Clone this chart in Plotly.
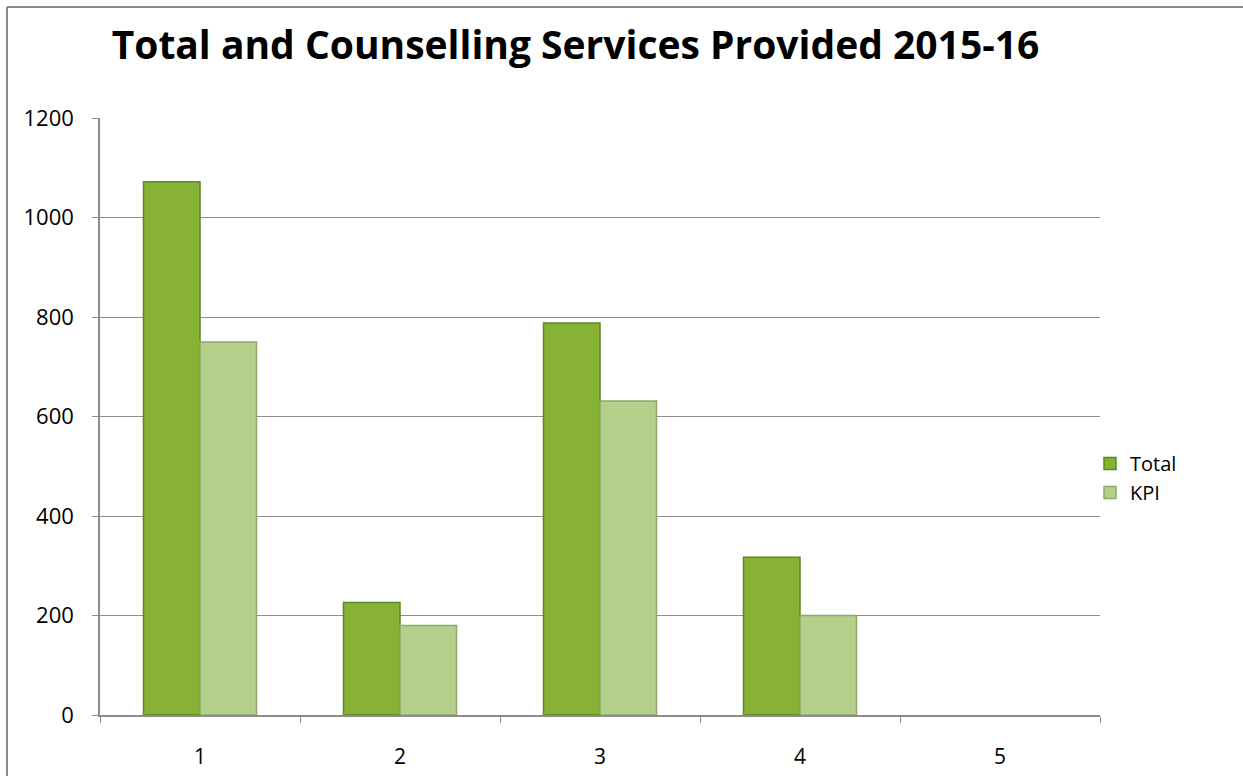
import plotly.graph_objects as go

categories = ["1", "2", "3", "4", "5"]
total = [1072, 226, 788, 317, None]
kpi = [750, 180, 631, 200, None]
y_ticks = [0, 200, 400, 600, 800, 1000, 1200]

W, H = 1243, 776
L, R, T, B = 100, 143, 118, 61
fig = go.Figure()
fig.add_trace(go.Bar(name="Total", x=categories, y=total,
                     marker=dict(color="#87B236", line=dict(color="#5E8622", width=1.5))))
fig.add_trace(go.Bar(name="KPI", x=categories, y=kpi,
                     marker=dict(color="#B5D08A", line=dict(color="#8EA86A", width=1.5))))

fig.update_layout(
    width=W, height=H,
    margin=dict(l=L, r=R, t=T, b=B),
    paper_bgcolor="white", plot_bgcolor="white",
    barmode="group", bargap=0.435, bargroupgap=0,
    font=dict(family="Open Sans", size=21, color="black"),
    title=dict(text="<b>Total and Counselling Services Provided 2015-16</b>",
               x=0.463, xanchor="center", yref="container", y=1 - 45 / H, yanchor="middle",
               font=dict(family="Open Sans", size=39, color="black")),
    legend=dict(x=0.99, xanchor="left", y=0.397, yanchor="middle",
                font=dict(size=20), tracegroupgap=0, itemwidth=30),
    showlegend=True,
)
fig.update_xaxes(type="category", showline=True, linecolor="#8c8c8c", linewidth=1.5,
                 ticks="outside", tickson="boundaries", ticklen=6, tickcolor="#8c8c8c",
                 showgrid=False, tickfont=dict(size=21), ticklabelstandoff=22,
                 automargin=False)
fig.update_yaxes(range=[0, 1200], tickvals=y_ticks, showline=True, linecolor="#8c8c8c",
                 linewidth=1.5, ticks="outside", ticklen=6, tickcolor="#8c8c8c",
                 showgrid=True, gridcolor="#8c8c8c", gridwidth=1.2, zeroline=False,
                 tickfont=dict(size=22), ticklabelstandoff=14, automargin=False)
ytop = (H - B - 7) / (H - T - B)
xleft = (7 - L) / (W - L - R)
fig.add_shape(type="line", xref="paper", yref="paper",
              x0=xleft, x1=1.2, y0=ytop, y1=ytop,
              line=dict(color="#8c8c8c", width=2))
fig.add_shape(type="line", xref="paper", yref="paper",
              x0=xleft, x1=xleft, y0=-0.2, y1=ytop,
              line=dict(color="#8c8c8c", width=2))
fig.write_html("out.html")
